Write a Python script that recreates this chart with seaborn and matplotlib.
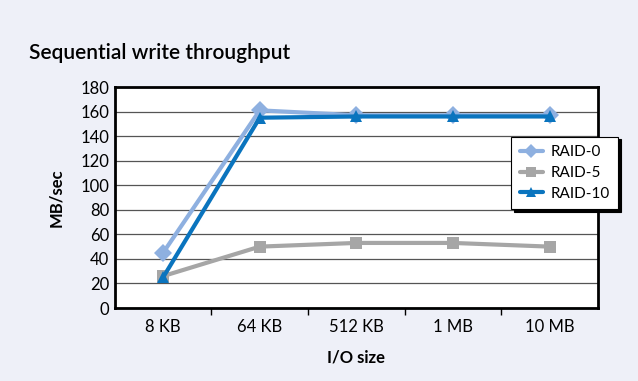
import matplotlib
matplotlib.use("Agg")
import matplotlib.pyplot as plt
import seaborn as sns
import pandas as pd
import numpy as np
from matplotlib.ticker import FixedLocator

categories = ["8 KB", "64 KB", "512 KB", "1 MB", "10 MB"]
raid0 = [45, 161, 157, 157, 157]
raid5 = [26, 50, 53, 53, 50]
raid10 = [25, 155, 156, 156, 156]
series_names = ["RAID-0", "RAID-5", "RAID-10"]
yticks = [0, 20, 40, 60, 80, 100, 120, 140, 160, 180]

rows = []
for name, vals in zip(series_names, [raid0, raid5, raid10]):
    for i, v in enumerate(vals):
        rows.append({"pos": i, "size": categories[i], "MB/sec": v, "series": name})
df = pd.DataFrame(rows)

sns.set_theme(style="white")
plt.rcParams['font.family'] = ['Lato', 'DejaVu Sans']
for k in ["text.color", "axes.labelcolor", "xtick.color", "ytick.color"]:
    plt.rcParams[k] = "black"

bg = "#EEF0F8"
fig = plt.figure(figsize=(6.38, 3.81), dpi=100, facecolor=bg)
ax = fig.add_axes([0.180, 0.1916, 0.757, 0.580])
ax.set_facecolor("white")

palette = {"RAID-0": "#8EB0E0", "RAID-5": "#A6A6A6", "RAID-10": "#0A74BE"}
markers = {"RAID-0": "D", "RAID-5": "s", "RAID-10": "^"}
sns.lineplot(data=df, x="pos", y="MB/sec", hue="series", style="series",
             palette=palette, markers=markers, dashes=False, linewidth=3,
             markersize=9, markeredgewidth=0, ax=ax, legend=True, sort=False)

ax.set_xlim(-0.5, 4.5)
ax.set_ylim(0, 180)
ax.set_yticks(yticks)
ax.set_yticklabels([str(t) for t in yticks], fontsize=12)
ax.set_xticks(range(len(categories)))
ax.set_xticklabels(categories, fontsize=12)
ax.xaxis.set_minor_locator(FixedLocator([0.5, 1.5, 2.5, 3.5]))
ax.tick_params(axis="x", which="major", length=0, pad=8)
ax.tick_params(axis="x", which="minor", length=5, width=1, color="black", direction="out", bottom=True)
ax.tick_params(axis="y", length=0, pad=4)
ax.grid(axis="y", color="#555555", linewidth=0.9)
ax.set_axisbelow(True)
for s in ax.spines.values():
    s.set_color("black")
    s.set_linewidth(2)

ax.set_xlabel("I/O size", fontsize=12, fontweight="bold", labelpad=10)
ax.set_ylabel("MB/sec", fontsize=12, fontweight="bold", labelpad=12)

fig.text(0.045, 0.86, "Sequential write throughput", fontsize=15, fontweight="semibold",
         ha="left", va="center")

leg = ax.legend(loc="upper left", bbox_to_anchor=(0.805, 0.81), frameon=True,
                fancybox=False, shadow={"color": "black", "alpha": 1.0}, fontsize=11,
                handlelength=1.5, borderpad=0.55, labelspacing=0.45, handletextpad=0.5,
                markerscale=0.8)
leg.get_frame().set_edgecolor("black")
leg.get_frame().set_linewidth(0.8)
leg.set_title(None)

fig.savefig("out.png", dpi=100, facecolor=bg)
